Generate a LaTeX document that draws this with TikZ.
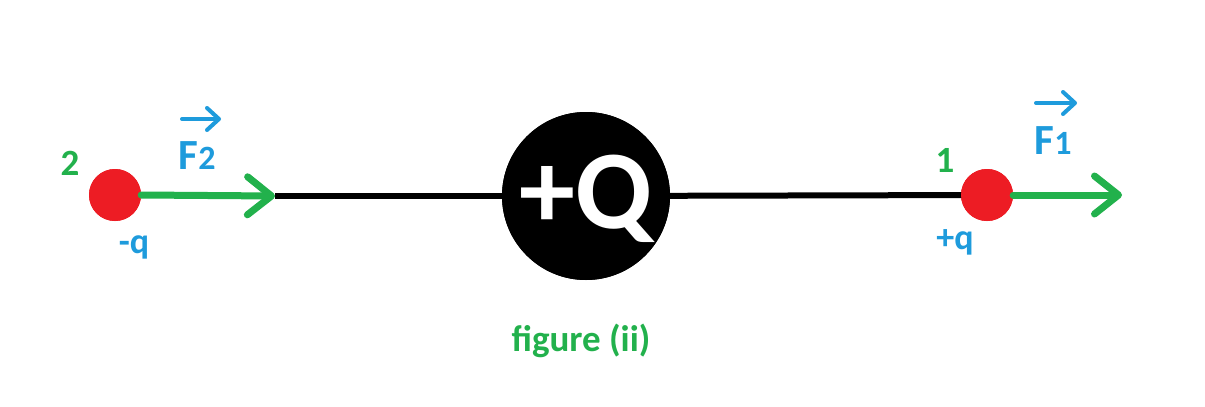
\documentclass[tikz,border=0pt]{standalone}
\usepackage{fontspec}
\setmainfont{Carlito}
\usetikzlibrary{arrows.meta}
\definecolor{pgreen}{HTML}{22B14C}
\definecolor{pred}{HTML}{ED1C24}
\definecolor{pblue}{HTML}{1E9BDC}
\begin{document}
\begin{tikzpicture}[x=1pt,y=-1pt,
  charge/.style={circle,fill=pred,minimum size=52pt,inner sep=0pt},
  force/.style={draw=pgreen,line width=7pt,line cap=round,-{Straight Barb[length=24pt,width=38pt,round]}},
  vecmark/.style={draw=pblue,line width=4pt,line cap=round,-{Straight Barb[length=12pt,width=22pt,round]}},
  rod/.style={draw=black,line width=6pt},
  glabel/.style={text=pgreen,font=\bfseries\fontsize{37}{38}\selectfont,inner sep=0pt},
  blabel/.style={text=pblue,font=\bfseries\fontsize{36}{37}\selectfont,inner sep=0pt},
  flabel/.style={text=pblue,font=\bfseries\fontsize{43}{44}\selectfont,inner sep=0pt}]
\useasboundingbox (0,0) rectangle (1205,407);
\fill[white] (0,0) rectangle (1205,407);
% tips
\coordinate (t2) at (275,196);
\coordinate (t1) at (1122,195);
\coordinate (v2a) at (182,119);
\coordinate (v2b) at (221,119);
\coordinate (v1a) at (1036,103);
\coordinate (v1b) at (1077,103);
% rods
\node[circle,fill=black,minimum size=168pt,inner sep=0pt] (Q) at (586,196) {};
\node[charge] (c2) at (115,195) {};
\node[charge] (c1) at (987,195) {};
\draw[rod] (t2) -- (Q.center);
\draw[rod] (Q.center) -- (c1.center);
\node[circle,fill=black,minimum size=168pt,inner sep=0pt] (Qb) at (586,196) {};
\node[text=white,font=\bfseries\fontsize{112}{112}\selectfont,inner sep=0pt] (Qt) at (586,199) {+Q};
\node[charge] (c2b) at (115,195) {};
\node[charge] (c1b) at (987,195) {};
\draw[force] (c2b.east) -- (t2);
\draw[force] (c1b.east) -- (t1);
% labels
\node[glabel] (n2) at (70,163) {2};
\node[glabel] (n1) at (945,160) {1};
\node[blabel] (mq) at (134,247) {-q};
\node[blabel] (pq) at (955,242) {+q};
\node[flabel] (F2) at (197,156) {F\fontsize{34}{34}\selectfont 2};
\node[flabel] (F1) at (1053,141) {F\fontsize{34}{34}\selectfont 1};
\draw[vecmark] (v2a) -- (v2b);
\draw[vecmark] (v1a) -- (v1b);
\node[glabel] (cap) at (581,341) {figure (ii)};
\end{tikzpicture}
\end{document}
